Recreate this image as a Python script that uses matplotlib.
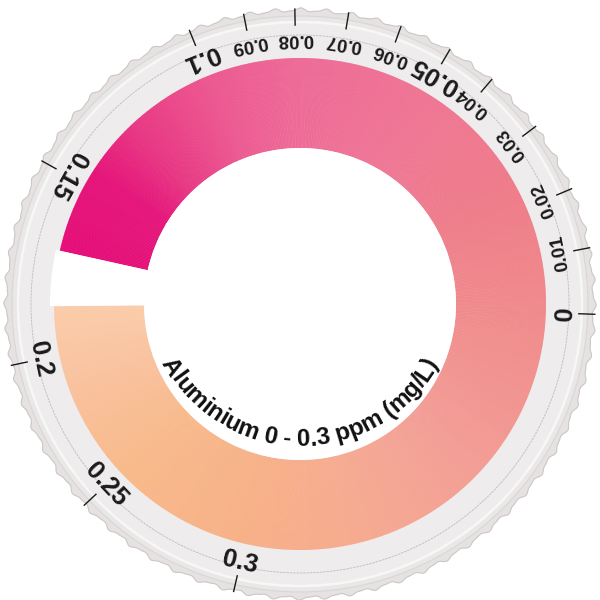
import numpy as np
import matplotlib
matplotlib.use("Agg")
import matplotlib.pyplot as plt
from matplotlib.patches import Wedge, Circle, Polygon
from matplotlib.colors import LinearSegmentedColormap
from matplotlib.font_manager import FontProperties, findfont
from matplotlib.ft2font import FT2Font

# ---------------- data ----------------
tick_values = [0, 0.01, 0.02, 0.03, 0.04, 0.05, 0.06, 0.07, 0.08, 0.09, 0.1, 0.15, 0.2, 0.25, 0.3]
tick_labels = ["0", "0.01", "0.02", "0.03", "0.04", "0.05", "0.06", "0.07", "0.08", "0.09",
               "0.1", "0.15", "0.2", "0.25", "0.3"]
tick_angles = [-2, 11, 23, 37, 49.5, 59.5, 70, 80.5, 91, 101, 112, 151, 192, 223, 257]
major_labels = ["0", "0.05", "0.1", "0.15", "0.2", "0.25", "0.3"]

ring_stop_angles = [180.5, 200, 223, 256, 280, 297, 317, 340, 360, 388, 413, 450, 472, 494, 508, 527.5]
ring_stop_colors = ["#FBCCAA", "#F9C29E", "#F8BA8B", "#F7B188", "#F6AC8F", "#F5A694", "#F39E96",
                    "#F29390", "#F08A8D", "#EF7D8A", "#EF7893", "#EE6C98", "#EC5A91", "#E83884",
                    "#E5167B", "#E51079"]

title = "Aluminium 0 - 0.3 ppm (mg/L)"

# ---------------- layout ----------------
CX, CY = 300, 296
R_RING_OUT, R_RING_IN = 246, 156
R_LINE = 269
R_FACE = 282
R_RIM = 294
R_LABEL = 265
R_TICK0, R_TICK1 = 279, 295

fig = plt.figure(figsize=(6, 6), dpi=100)
ax = fig.add_axes([0, 0, 1, 1])
ax.set_xlim(0, 600)
ax.set_ylim(0, 600)
ax.set_aspect("equal")
ax.axis("off")

# outer scalloped rim
phi = np.linspace(0, 2 * np.pi, 4000)
rr = R_RIM + 1.6 * np.cos(72 * phi) + 0.6 * np.cos(144 * phi + 0.7)
ax.add_patch(Polygon(np.column_stack([CX + rr * np.cos(phi), CY + rr * np.sin(phi)]),
                     closed=True, facecolor="#E6E2E2", edgecolor="#CCC7C7", lw=0.8, zorder=1))
ax.add_patch(Circle((CX, CY), R_RIM - 6, facecolor="#EAE7E7", edgecolor="#DAD6D6", lw=0.8, zorder=1.2))
# face
ax.add_patch(Circle((CX, CY), R_FACE, facecolor="#EEECEC", edgecolor="#F8F7F7", lw=1.8, zorder=1.5))
ax.add_patch(Circle((CX, CY), R_LINE, facecolor="none", edgecolor="#BEBEBE", lw=0.6,
                    ls=(0, (3, 1)), zorder=1.6))

# colour ring
pos = [(a - ring_stop_angles[0]) / (ring_stop_angles[-1] - ring_stop_angles[0]) for a in ring_stop_angles]
cmap = LinearSegmentedColormap.from_list("ring", list(zip(pos, ring_stop_colors)))
a0, a1 = ring_stop_angles[0], ring_stop_angles[-1]
step = 0.5
for a in np.arange(a0, a1, step):
    c = cmap((a + step / 2 - a0) / (a1 - a0))
    ax.add_patch(Wedge((CX, CY), R_RING_OUT, a, min(a + step + 0.15, a1),
                       width=R_RING_OUT - R_RING_IN, facecolor=c, edgecolor="none", lw=0, zorder=2))
# white window gap and inner hole
ax.add_patch(Wedge((CX, CY), R_RING_OUT + 4, a1 - 360, a0, facecolor="white", edgecolor="none", zorder=2.1))
ax.add_patch(Circle((CX, CY), R_RING_IN, facecolor="white", edgecolor="none", zorder=2.2))

# ticks and labels
for v, lab, ang in zip(tick_values, tick_labels, tick_angles):
    t = np.deg2rad(ang)
    ax.plot([CX + R_TICK0 * np.cos(t), CX + R_TICK1 * np.cos(t)],
            [CY + R_TICK0 * np.sin(t), CY + R_TICK1 * np.sin(t)], color="#1A1A1A", lw=1.0, zorder=3)
    big = lab in major_labels
    ax.text(CX + R_LABEL * np.cos(t), CY + R_LABEL * np.sin(t), lab,
            rotation=ang + 90, rotation_mode="anchor", ha="center", va="center",
            fontsize=18.5 if big else 13.5, fontweight="bold", family="Liberation Sans",
            color="#1A1A1A", zorder=3)

# curved title inside the window
TX, TY, RB = 300, 312, 158
fs = 17.5
track = 1.0
fp = FontProperties(family="Liberation Sans", weight="bold", size=fs)
font = FT2Font(findfont(fp))
font.set_size(fs, 100)
adv = [track * font.load_char(ord(ch)).linearHoriAdvance / 65536.0 for ch in title]
W = sum(adv)
x = 0.0
for ch, w in zip(title, adv):
    xc = x + w / 2
    x += w
    th = 270 + np.rad2deg((xc - W / 2) / RB)
    t = np.deg2rad(th)
    ax.text(TX + RB * np.cos(t), TY + RB * np.sin(t), ch, fontproperties=fp,
            rotation=th + 90, rotation_mode="anchor", ha="center", va="baseline",
            color="#111111", zorder=4)

fig.savefig("out.png", dpi=100, facecolor="white")
